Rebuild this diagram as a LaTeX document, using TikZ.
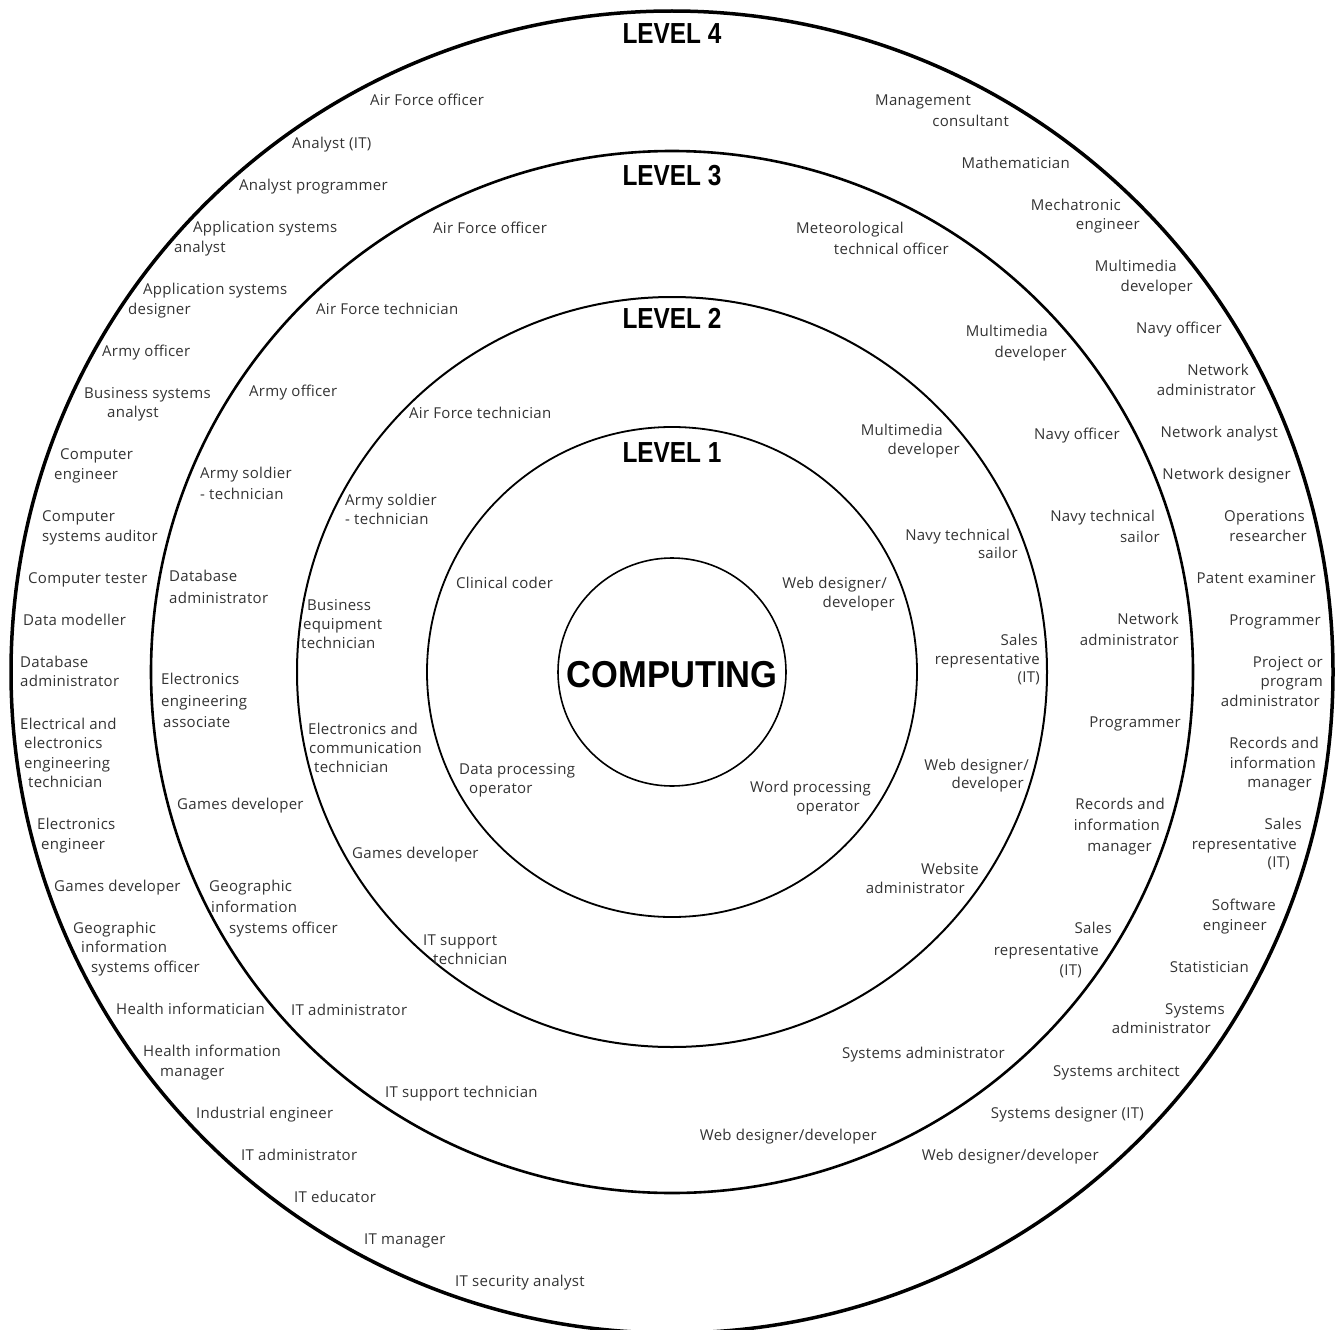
\documentclass[tikz,border=0pt]{standalone}
\usepackage{fontspec}
\setmainfont{Open Sans}[LetterSpace=2]
\newfontfamily\titlefont{Liberation Sans}
\newcounter{lab}
\newcommand\Lt[3]{\stepcounter{lab}\node[lbl,anchor=base west] (w\arabic{lab}) at (#1,#2+5) {#3};}
\newcommand\Rt[3]{\stepcounter{lab}\node[lbl,anchor=base east] (e\arabic{lab}) at (#1,#2+5) {#3};}
\tikzset{
  lbl/.style={inner sep=0pt, text=black!80, font=\fontsize{15}{19}\selectfont},
  ttl/.style={inner sep=0pt, text=black, font=\titlefont\bfseries\fontsize{29}{29}\selectfont},
  ring/.style={draw=black}
}
\begin{document}
\begin{tikzpicture}[x=1pt,y=-1pt]
\fill[white] (0,0) rectangle (1339,1330);
\useasboundingbox (0,0) rectangle (1339,1330);
\coordinate (c) at (672,672);
\draw[ring,line width=3.5pt] (c) circle[radius=661];
\draw[ring,line width=2.6pt] (c) circle[radius=521];
\draw[ring,line width=2pt] (c) circle[radius=375];
\draw[ring,line width=1.8pt] (c) circle[radius=245];
\draw[ring,line width=1.6pt] (c) circle[radius=114];
\node[ttl] (lv4) at (672,34) {\scalebox{0.84}[1]{LEVEL 4}};
\node[ttl] (lv3) at (672,176) {\scalebox{0.84}[1]{LEVEL 3}};
\node[ttl] (lv2) at (672,318) {\scalebox{0.84}[1]{LEVEL 2}};
\node[ttl] (lv1) at (672,453) {\scalebox{0.84}[1]{LEVEL 1}};
\node[ttl,font=\titlefont\bfseries\fontsize{37.5}{37.5}\selectfont] (comp) at (672,675) {\scalebox{0.92}[1]{COMPUTING}};
% Level 4 left
\Lt{370}{101}{Air Force officer}
\Lt{292}{143}{Analyst (IT)}
\Lt{239}{185}{Analyst programmer}
\Lt{193}{227}{Application systems}
\Lt{174}{247}{analyst}
\Lt{143}{289}{Application systems}
\Lt{128}{309}{designer}
\Lt{102}{351}{Army officer}
\Lt{84}{393}{Business systems}
\Lt{107}{412}{analyst}
\Lt{60}{454}{Computer}
\Lt{54}{474}{engineer}
\Lt{42}{516}{Computer}
\Lt{42}{536}{systems auditor}
\Lt{28}{578}{Computer tester}
\Lt{23}{620}{Data modeller}
\Lt{20}{662}{Database}
\Lt{20}{681}{administrator}
\Lt{20}{724}{Electrical and}
\Lt{24}{743}{electronics}
\Lt{24}{763}{engineering}
\Lt{28}{782}{technician}
\Lt{37}{824}{Electronics}
\Lt{41}{844}{engineer}
\Lt{54}{886}{Games developer}
\Lt{73}{928}{Geographic}
\Lt{81}{947}{information}
\Lt{91}{967}{systems officer}
\Lt{116}{1009}{Health informatician}
\Lt{143}{1051}{Health information}
\Lt{160}{1071}{manager}
\Lt{196}{1113}{Industrial engineer}
\Lt{241}{1155}{IT administrator}
\Lt{294}{1197}{IT educator}
\Lt{364}{1239}{IT manager}
\Lt{455}{1281}{IT security analyst}
% Level 4 right
\Rt{971}{101}{Management}
\Rt{1009}{121}{consultant}
\Rt{1070}{163}{Mathematician}
\Rt{1121}{205}{Mechatronic}
\Rt{1140}{224}{engineer}
\Rt{1177}{266}{Multimedia}
\Rt{1193}{286}{developer}
\Rt{1222}{328}{Navy officer}
\Rt{1249}{370}{Network}
\Rt{1256}{390}{administrator}
\Rt{1278}{432}{Network analyst}
\Rt{1291}{474}{Network designer}
\Rt{1305}{516}{Operations}
\Rt{1307}{536}{researcher}
\Rt{1316}{578}{Patent examiner}
\Rt{1321}{620}{Programmer}
\Rt{1323}{662}{Project or}
\Rt{1323}{681}{program}
\Rt{1320}{701}{administrator}
\Rt{1319}{743}{Records and}
\Rt{1316}{763}{information}
\Rt{1312}{782}{manager}
\Rt{1302}{824}{Sales}
\Rt{1297}{844}{representative}
\Rt{1290}{862}{(IT)}
\Rt{1276}{905}{Software}
\Rt{1267}{925}{engineer}
\Rt{1249}{967}{Statistician}
\Rt{1225}{1009}{Systems}
\Rt{1211}{1028}{administrator}
\Rt{1180}{1071}{Systems architect}
\Rt{1144}{1113}{Systems designer (IT)}
\Rt{1099}{1155}{Web designer/developer}
% Level 3 left
\Lt{433}{228}{Air Force officer}
\Lt{316}{309}{Air Force technician}
\Lt{249}{391}{Army officer}
\Lt{200}{473}{Army soldier}
\Lt{200}{494}{- technician}
\Lt{169}{576}{Database}
\Lt{169}{598}{administrator}
\Lt{161}{679}{Electronics}
\Lt{161}{701}{engineering}
\Lt{163}{722}{associate}
\Lt{177}{804}{Games developer}
\Lt{209}{886}{Geographic}
\Lt{211}{907}{information}
\Lt{229}{928}{systems officer}
\Lt{291}{1010}{IT administrator}
\Lt{385}{1092}{IT support technician}
% Level 3 right
\Rt{904}{228}{Meteorological}
\Rt{949}{249}{technical officer}
\Rt{1048}{331}{Multimedia}
\Rt{1067}{352}{developer}
\Rt{1120}{434}{Navy officer}
\Rt{1155}{516}{Navy technical}
\Rt{1160}{537}{sailor}
\Rt{1179}{619}{Network}
\Rt{1179}{640}{administrator}
\Rt{1181}{722}{Programmer}
\Rt{1165}{804}{Records and}
\Rt{1160}{825}{information}
\Rt{1152}{846}{manager}
\Rt{1112}{928}{Sales}
\Rt{1099}{950}{representative}
\Rt{1082}{970}{(IT)}
\Rt{1005}{1053}{Systems administrator}
\Rt{877}{1135}{Web designer/developer}
% Level 2 left
\Lt{409}{413}{Air Force technician}
\Lt{345}{500}{Army soldier}
\Lt{345}{519}{- technician}
\Lt{307}{605}{Business}
\Lt{303}{624}{equipment}
\Lt{301}{643}{technician}
\Lt{308}{729}{Electronics and}
\Lt{309}{748}{communication}
\Lt{314}{767}{technician}
\Lt{352}{853}{Games developer}
\Lt{423}{940}{IT support}
\Lt{433}{959}{technician}
% Level 2 right
\Rt{943}{430}{Multimedia}
\Rt{960}{449}{developer}
\Rt{1010}{535}{Navy technical}
\Rt{1018}{553}{sailor}
\Rt{1038}{640}{Sales}
\Rt{1040}{659}{representative}
\Rt{1040}{677}{(IT)}
\Rt{1029}{765}{Web designer/}
\Rt{1024}{783}{developer}
\Rt{979}{869}{Website}
\Rt{965}{888}{administrator}
% Level 1
\Lt{456}{583}{Clinical coder}
\Rt{887}{583}{Web designer/}
\Rt{895}{602}{developer}
\Lt{459}{769}{Data processing}
\Lt{469}{788}{operator}
\Rt{871}{787}{Word processing}
\Rt{860}{806}{operator}
\end{tikzpicture}
\end{document}
